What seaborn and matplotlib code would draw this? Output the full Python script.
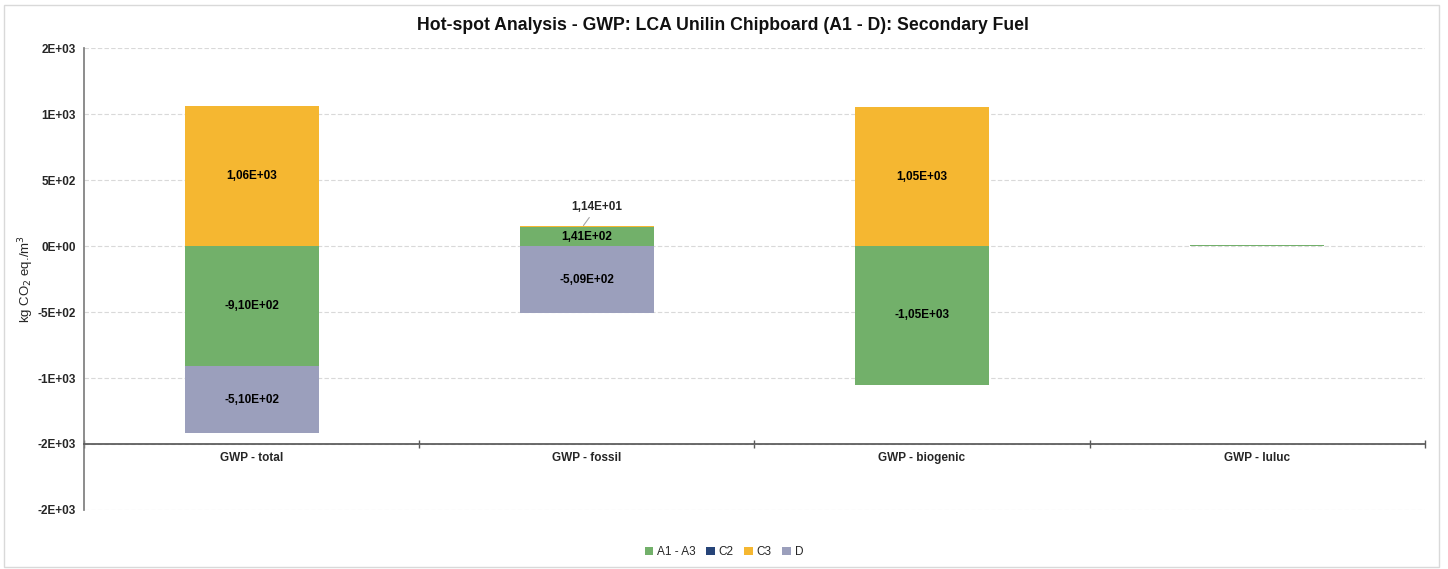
import numpy as np
import pandas as pd
import seaborn as sns
import matplotlib.pyplot as plt
from matplotlib.patches import Rectangle
from matplotlib.ticker import FuncFormatter, FixedLocator

# Data
categories = ["GWP - total", "GWP - fossil", "GWP - biogenic", "GWP - luluc"]
series_names = ["A1 - A3", "C2", "C3", "D"]
a1_a3 = [-910.0, 141.0, -1050.0, 4.0]
c2 = [2.6, 2.6, 0.0, 0.1]
c3 = [1060.0, 11.4, 1050.0, 3.5]
d = [-510.0, -509.0, 0.0, -0.1]
colors = ["#72B06A", "#264478", "#F5B731", "#9B9FBC"]

series = [a1_a3, c2, c3, d]

sns.set_theme(style="white")
plt.rcParams["font.family"] = ["Liberation Sans", "DejaVu Sans"]

fig, ax = plt.subplots(figsize=(14.48, 5.69), dpi=100)
fig.subplots_adjust(left=0.058, right=0.984, top=0.9156, bottom=0.1037)

# stacking like Excel: positives and negatives stack separately
pos_base = np.zeros(len(categories))
neg_base = np.zeros(len(categories))
for name, vals, col in zip(series_names, series, colors):
    vals = np.array(vals)
    bottom = np.where(vals >= 0, pos_base, neg_base)
    df = pd.DataFrame({"cat": categories, "val": vals})
    sns.barplot(data=df, x="cat", y="val", order=categories, color=col,
                saturation=1, width=0.4, errorbar=None, bottom=bottom,
                label=name, ax=ax, linewidth=0)
    for i, v in enumerate(vals):
        if abs(v) > 50:
            ax.text(i, bottom[i] + v / 2, f"{v:.2E}".replace(".", ","),
                    ha="center", va="center", fontsize=8.5, fontweight="bold",
                    color="black")
    pos_base = pos_base + np.where(vals >= 0, vals, 0)
    neg_base = neg_base + np.where(vals < 0, vals, 0)

if ax.get_legend() is not None:
    ax.get_legend().remove()

# small C3 segment on fossil with leader line
v = c3[1]
ax.annotate(f"{v:.2E}".replace(".", ","), xy=(0.99, pos_base[1]),
            xytext=(1.03, 295), ha="center", va="center", fontsize=8.5,
            fontweight="bold",
            arrowprops=dict(arrowstyle="-", color="#a6a6a6", lw=0.8,
                            shrinkA=1, shrinkB=0))

ax.set_ylim(-2000, 1500)
ax.set_xlim(-0.5, 3.5)
ax.yaxis.set_major_locator(FixedLocator(np.arange(-2000, 1501, 500)))
ax.yaxis.set_major_formatter(FuncFormatter(lambda y, p: f"{y:.0E}"))
ax.grid(axis="y", color="#d9d9d9", linestyle=(0, (4, 2)), linewidth=0.8)
ax.set_axisbelow(True)

ax.spines["top"].set_visible(False)
ax.spines["right"].set_visible(False)
ax.spines["left"].set_color("#7f7f7f")
ax.spines["bottom"].set_color("#595959")
ax.spines["bottom"].set_position(("data", -1500))
ax.set_xticks(range(len(categories)))
ax.set_xticklabels(categories, fontsize=8.5, fontweight="bold")
ax.set_xticks([-0.5, 0.5, 1.5, 2.5, 3.5], minor=True)
ax.tick_params(axis="x", which="major", length=0, pad=6)
ax.tick_params(axis="x", which="minor", length=6, direction="inout",
               color="#595959", bottom=True)
ax.tick_params(axis="y", length=0, labelsize=8.5, pad=6)
for lab in ax.get_yticklabels():
    lab.set_fontweight("bold")
ax.set_xlabel("")
ax.set_ylabel("kg CO$_2$ eq./m$^3$", fontsize=9.5, labelpad=1)

fig.text(0.499, 0.955,
         "Hot-spot Analysis - GWP: LCA Unilin Chipboard (A1 - D): Secondary Fuel",
         ha="center", va="center", fontsize=12.7, fontweight="bold", color="#111111")

handles, labels = ax.get_legend_handles_labels()
fig.legend(handles, labels, loc="center", bbox_to_anchor=(0.5, 0.03),
           ncol=4, frameon=False, fontsize=8.5, handlelength=0.7,
           handleheight=0.7, handletextpad=0.35, columnspacing=0.9)

fig.patches.append(Rectangle((0.003, 0.003), 0.991, 0.988, transform=fig.transFigure,
                             fill=False, edgecolor="#d9d9d9", linewidth=1))

fig.savefig("out.png", dpi=100)
